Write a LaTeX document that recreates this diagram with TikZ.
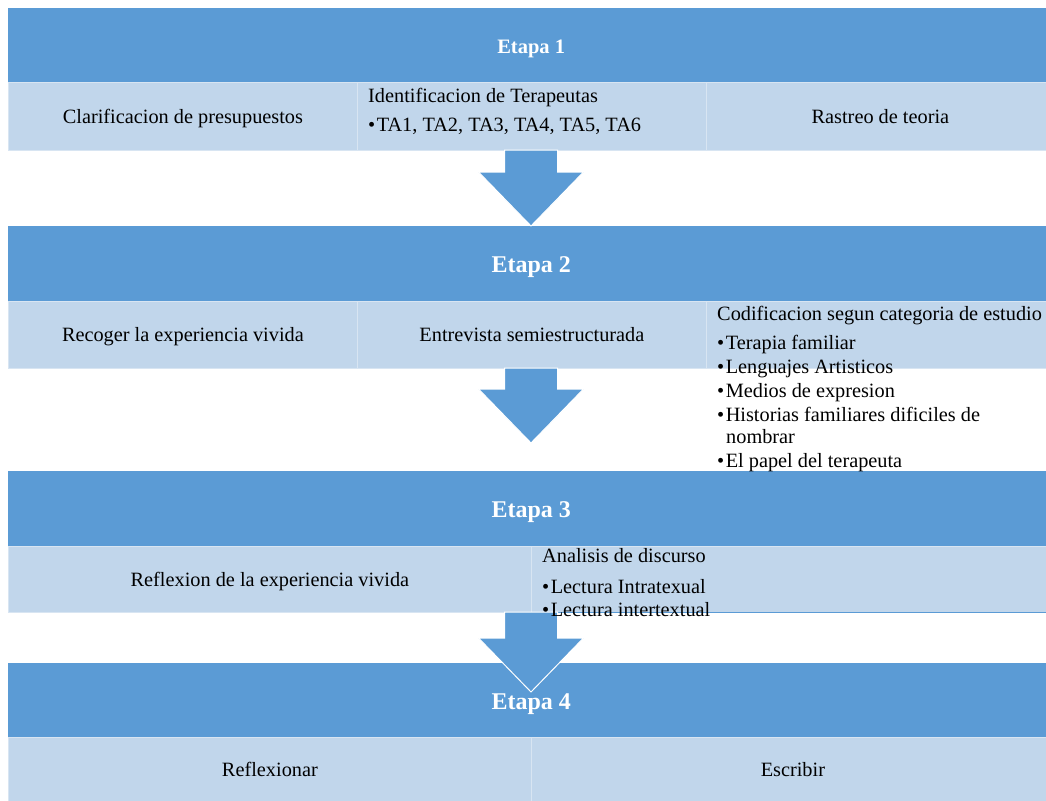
\documentclass[tikz,border=0pt]{standalone}
\usepackage{fontspec}
\setmainfont{Liberation Serif}
\usetikzlibrary{calc}
\definecolor{headblue}{HTML}{5B9BD5}
\definecolor{cellblue}{HTML}{C1D6EB}
\definecolor{cellsep}{HTML}{D8E5F2}
\newcommand\rowfont{\fontsize{20.3}{24}\selectfont}
\newcommand\bul{\textbullet\kern1.5pt}
\begin{document}
\begin{tikzpicture}[x=1pt,y=-1pt,
  header/.style={fill=headblue, draw=none, inner sep=0pt, anchor=north west, minimum width=1038pt, minimum height=75pt},
  headtext/.style={inner sep=0pt, text=white, text depth=0pt, font=\bfseries\fontsize{24}{28}\selectfont},
  cell/.style={fill=cellblue, draw=cellsep, line width=0.8pt, inner sep=0pt, text depth=0pt, anchor=north west, font=\rowfont},
  rcell/.style={cell, align=center, text width=#1},
  txt/.style={inner sep=0pt, anchor=base west, font=\rowfont},
  bigarrow/.style={fill=headblue, draw=white, line width=1pt, line join=miter}
]
\useasboundingbox (0,0) rectangle (1046,800);

% ---------- Etapa 1 ----------
\node[header] (h1) at (8,8) {};
\node[cell, minimum width=349pt, minimum height=68pt] (c11) at (8,82) {Clarificacion de presupuestos};
\node[cell, minimum width=349pt, minimum height=68pt] (c12) at (357,82) {};
\node[cell, minimum width=340pt, minimum height=68pt] (c13) at (706,82) {\hspace*{8pt}Rastreo de teoria};

% ---------- Etapa 2 ----------
\node[header] (h2) at (8,226) {};
\node[cell, minimum width=349pt, minimum height=67pt] (c21) at (8,301) {Recoger la experiencia vivida};
\node[cell, minimum width=349pt, minimum height=67pt] (c22) at (357,301) {Entrevista semiestructurada};
\node[cell, minimum width=340pt, minimum height=67pt] (c23) at (706,301) {};

% ---------- Etapa 3 ----------
\node[header] (h3) at (8,471) {};
\node[cell, minimum width=523pt, minimum height=66pt] (c31) at (8,546) {Reflexion de la experiencia vivida};
\node[cell, minimum width=515pt, minimum height=66pt] (c32) at (531,546) {};
\draw[headblue, line width=1pt] (c32.south west) -- (c32.south east);

% ---------- Etapa 4 ----------
\node[header] (h4) at (8,663) {};
\node[cell, minimum width=523pt, minimum height=64pt] (c41) at (8,737) {Reflexionar};
\node[cell, minimum width=515pt, minimum height=64pt] (c42) at (531,737) {\hspace*{8pt}Escribir};

% ---------- block arrows ----------
\coordinate (a1s) at (531,150); \coordinate (a1t) at (531,226);
\coordinate (a2s) at (531,368); \coordinate (a2t) at (531,443);
\coordinate (a3s) at (531,612); \coordinate (a3t) at (531,692);
\foreach \s/\t in {a1s/a1t, a2s/a2t, a3s/a3t}{
  \draw[bigarrow] let \p1=(\s), \p2=(\t) in
    (\x1-26.5pt,\y1) -- (\x1+26.5pt,\y1) -- (\x1+26.5pt,\y2+54pt) -- (\x1+52.5pt,\y2+54pt)
    -- (\x2,\y2) -- (\x1-52.5pt,\y2+54pt) -- (\x1-26.5pt,\y2+54pt) -- cycle;
}

% ---------- header texts ----------
\node[headtext, font=\bfseries\fontsize{20.5}{24}\selectfont] (h1t) at ($(h1.center)+(4,1)$) {Etapa 1};
\node[headtext] (h2t) at ($(h2.center)+(4,1)$) {Etapa 2};
\node[headtext] (h3t) at ($(h3.center)+(4,1)$) {Etapa 3};
\node[headtext] (h4t) at ($(h4.center)+(4,1)$) {Etapa 4};

% ---------- list texts ----------
\node[txt] (t12a) at (368,102) {Identificacion de Terapeutas};
\node[txt] (t12b) at (368,131) {\bul TA1, TA2, TA3, TA4, TA5, TA6};

\node[txt] (t23a) at (717,320) {Codificacion segun categoria de estudio};
\node[txt] (t23b) at (717,349) {\bul Terapia familiar};
\node[txt] (t23c) at (717,373) {\bul Lenguajes Artisticos};
\node[txt] (t23d) at (717,397) {\bul Medios de expresion};
\node[txt] (t23e) at (717,421) {\bul Historias familiares dificiles de};
\node[txt] (t23f) at (726,443) {nombrar};
\node[txt] (t23g) at (717,467) {\bul El papel del terapeuta};

\node[txt] (t32a) at (542,562) {Analisis de discurso};
\node[txt] (t32b) at (542,593) {\bul Lectura Intratexual};
\node[txt] (t32c) at (542,616) {\bul Lectura intertextual};
\end{tikzpicture}
\end{document}
